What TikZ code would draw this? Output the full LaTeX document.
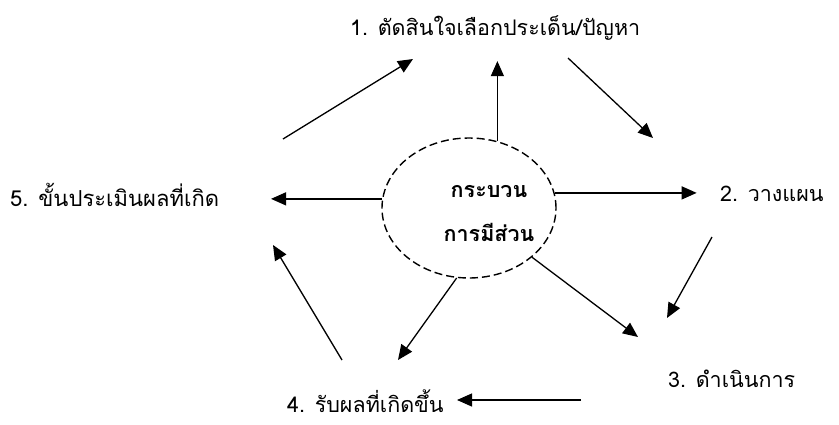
\documentclass[tikz,border=0pt]{standalone}
\usepackage{fontspec}
\newfontfamily\thai[Script=Thai]{Loma}
\usetikzlibrary{arrows.meta,shapes.geometric}
\begin{document}
\begin{tikzpicture}[x=1pt,y=-1pt,
  etiq/.style={font=\thai\fontsize{21.5}{24}\selectfont, inner sep=0pt},
  fleche/.style={line width=1.3pt, -{Triangle[length=15pt,width=13pt]}}]
\useasboundingbox (0,0) rectangle (839,424);
% étapes
\node [etiq, anchor=west] (e1) at (350,28) {1. ตัดสินใจเลือกประเด็น/ปัญหา};
\node [etiq, anchor=west] (e2) at (720,194) {2. วางแผน};
\node [etiq, anchor=west] (e3) at (668,379) {3. ดำเนินการ};
\node [etiq, anchor=west] (e4) at (287,401) {4. รับผลที่เกิดขึ้น};
\node [etiq, anchor=west, font=\thai\fontsize{22}{24}\selectfont] (e5) at (10,195) {5. ขั้นประเมินผลที่เกิด};
% processus
\node [draw, ellipse, line width=1.4pt, dash pattern=on 8pt off 4pt,
  minimum width=174pt, minimum height=140pt, inner sep=0pt] (proc) at (469,208) {};
\node [etiq, font=\thai\bfseries\fontsize{21.5}{44}\selectfont, align=center] (ptxt) at (489,214) {กระบวน\\การมีส่วน};
% flèches du centre
\draw [fleche] (proc.67) --++ (0,-80);
\draw [fleche] (proc.10) --++ (142,0);
\draw [fleche] (proc.174) --++ (-111,0);
\draw [fleche] (proc.-38) -- (638,337);
\draw [fleche] (proc.-100) -- (398,360);
% cycle
\coordinate (a1) at (283,139); \coordinate (a2) at (413,59);
\coordinate (b1) at (568,58);  \coordinate (b2) at (653,138);
\coordinate (c1) at (712,237); \coordinate (c2) at (667,318);
\coordinate (d1) at (581,400); \coordinate (d2) at (457,400);
\coordinate (f1) at (342,360); \coordinate (f2) at (273,245);
\draw [fleche] (a1) -- (a2);
\draw [fleche] (b1) -- (b2);
\draw [fleche] (c1) -- (c2);
\draw [fleche] (d1) -- (d2);
\draw [fleche] (f1) -- (f2);
\end{tikzpicture}
\end{document}
